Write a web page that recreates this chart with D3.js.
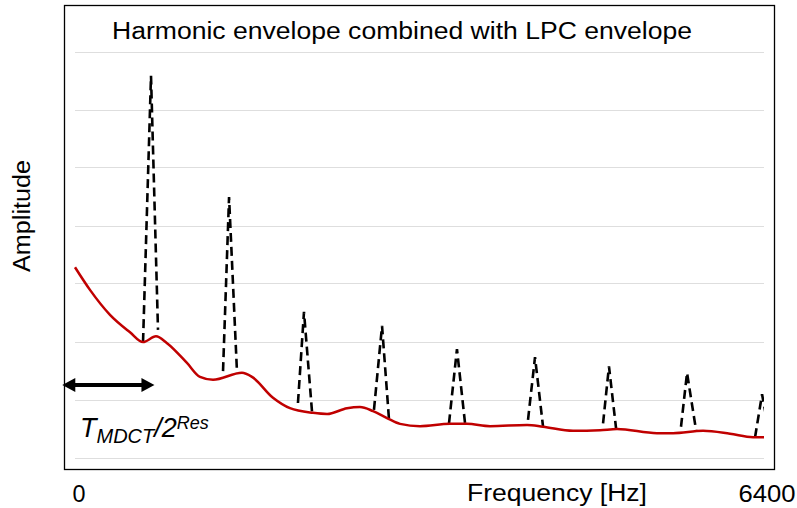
<!DOCTYPE html>
<html>
<head>
<meta charset="utf-8">
<script src="https://cdn.jsdelivr.net/npm/d3@7"></script>
<style>
  body { margin: 0; background: #fff; }
  svg { display: block; font-family: Arial, "Liberation Sans", sans-serif; }
  .grid { stroke: #dedede; stroke-width: 1px; }
  .frame { fill: none; stroke: #000; stroke-width: 1.3px; }
  .harmonic { fill: none; stroke: #000; stroke-width: 2.6px; stroke-dasharray: 9,5; }
  .lpc { fill: none; stroke: #c00000; stroke-width: 2.5px; stroke-linejoin: round; }
  .label { font-size: 23px; fill: #000; }
</style>
</head>
<body>
<svg id="chart" width="797" height="508"></svg>
<script>
  // combined envelope (solid red), frequency in Hz, amplitude in grid units
  const envHz = [0, 139, 325, 511, 632, 752, 855, 1040, 1161, 1282, 1551, 1644, 1839, 1997,
    2211, 2341, 2527, 2647, 2768, 2898, 3019, 3205, 3483, 3641, 3855, 4199, 4347, 4626,
    4877, 5035, 5406, 5555, 5834, 6084, 6298, 6400];
  const envAmp = [3.28, 2.89, 2.46, 2.16, 1.99, 2.09, 1.97, 1.63, 1.39, 1.34, 1.46, 1.39, 1.03, 0.85,
    0.77, 0.75, 0.85, 0.87, 0.80, 0.68, 0.58, 0.54, 0.58, 0.58, 0.54, 0.56, 0.53, 0.46,
    0.47, 0.49, 0.42, 0.42, 0.46, 0.41, 0.35, 0.35];

  // harmonic peaks (dashed black)
  const harmLeftHz  = [632, 1375, 2071, 2777, 3474, 4208, 4905, 5629, 6317];
  const harmTopHz   = [706, 1431, 2127, 2852, 3548, 4273, 4960, 5685, 6382];
  const harmRightHz = [771, 1505, 2202, 2917, 3623, 4347, 5026, 5769, 6460];
  const harmLeftAmp  = [1.99, 1.49, 0.94, 0.82, 0.59, 0.65, 0.59, 0.53, 0.35];
  const harmTopAmp   = [6.58, 4.49, 2.51, 2.27, 1.87, 1.73, 1.57, 1.46, 1.09];
  const harmRightAmp = [2.20, 1.46, 0.78, 0.65, 0.59, 0.54, 0.50, 0.47, 0.30];

  const gridLevels = [0, 1, 2, 3, 4, 5, 6, 7];
  const xTicks = [0, 6400];
  const arrowHz = [-118, 738];
  const arrowAmp = 1.25;

  const svg = d3.select('#chart');
  const x = d3.scaleLinear().domain([0, 6400]).range([75, 764]);
  const y = d3.scaleLinear().domain([0, 7]).range([457.5, 51.5]);

  svg.append('defs').append('clipPath').attr('id', 'plot')
    .append('rect').attr('x', 64).attr('y', 5).attr('width', x(6400) - 64).attr('height', 464);

  svg.append('g').selectAll('line').data(gridLevels).join('line')
    .attr('class', 'grid')
    .attr('x1', x(0)).attr('x2', x(6400))
    .attr('y1', d => Math.round(y(d)) + 0.5).attr('y2', d => Math.round(y(d)) + 0.5);

  svg.append('rect').attr('class', 'frame')
    .attr('x', 64.5).attr('y', 5.5).attr('width', 710).attr('height', 464);

  const line = d3.line().x(d => x(d[0])).y(d => y(d[1]));

  const peaks = harmTopHz.map((f, i) => [
    [harmLeftHz[i], harmLeftAmp[i]],
    [f, harmTopAmp[i]],
    [harmRightHz[i], harmRightAmp[i]]
  ]);
  svg.append('g').attr('clip-path', 'url(#plot)')
    .selectAll('path').data(peaks).join('path')
    .attr('class', 'harmonic')
    .attr('d', line);

  const env = d3.zip(envHz, envAmp);
  svg.append('path').attr('class', 'lpc')
    .attr('d', line.curve(d3.curveMonotoneX)(env));

  // double arrow for T_MDCT / 2^Res
  const ay = y(arrowAmp), ax0 = x(arrowHz[0]), ax1 = x(arrowHz[1]);
  svg.append('line')
    .attr('x1', ax0 + 10).attr('x2', ax1 - 10).attr('y1', ay).attr('y2', ay)
    .attr('stroke', '#000').attr('stroke-width', 4);
  svg.append('path')
    .attr('d', `M${ax0},${ay} l13,-7 l0,14 Z M${ax1},${ay} l-13,-7 l0,14 Z`)
    .attr('fill', '#000');

  const tl = svg.append('text').attr('x', 80).attr('y', 437)
    .attr('font-style', 'italic').attr('font-size', 27);
  tl.append('tspan').text('T');
  tl.append('tspan').attr('font-size', 20).attr('dy', 6).text('MDCT');
  tl.append('tspan').attr('dy', -6).text('/2');
  tl.append('tspan').attr('font-size', 18).attr('dy', -8).text('Res');

  svg.append('text').attr('class', 'label')
    .attr('x', 112).attr('y', 39)
    .attr('textLength', 580).attr('lengthAdjust', 'spacingAndGlyphs')
    .text('Harmonic envelope combined with LPC envelope');

  svg.append('text').attr('class', 'label')
    .attr('transform', 'translate(30,216) rotate(-90)')
    .attr('text-anchor', 'middle')
    .attr('textLength', 112).attr('lengthAdjust', 'spacingAndGlyphs')
    .text('Amplitude');

  svg.append('text').attr('class', 'label')
    .attr('x', 467).attr('y', 501)
    .attr('textLength', 180).attr('lengthAdjust', 'spacingAndGlyphs')
    .text('Frequency [Hz]');

  svg.append('g').selectAll('text').data(xTicks).join('text')
    .attr('class', 'label')
    .attr('x', d => x(d) + (d === 0 ? 4 : 3)).attr('y', 502)
    .attr('text-anchor', 'middle')
    .attr('textLength', d => d === 0 ? 13 : 57)
    .attr('lengthAdjust', 'spacingAndGlyphs')
    .text(d => d);
</script>
</body>
</html>
